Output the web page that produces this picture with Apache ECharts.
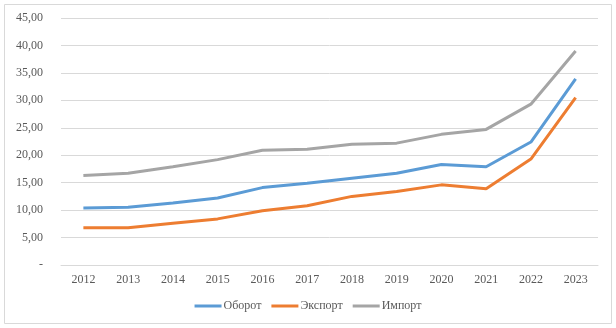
<!DOCTYPE html>
<html>
<head>
<meta charset="utf-8">
<script src="https://cdn.jsdelivr.net/npm/echarts@6/dist/echarts.min.js"></script>
<style>
  html, body { margin: 0; padding: 0; background: #fff; }
  #chart { width: 616px; height: 328px; }
</style>
</head>
<body>
<div id="chart"></div>
<script>
var years = ['2012', '2013', '2014', '2015', '2016', '2017', '2018', '2019', '2020', '2021', '2022', '2023'];
var oborot = [10.4, 10.5, 11.3, 12.2, 14.1, 14.9, 15.8, 16.7, 18.3, 17.9, 22.4, 33.9];
var eksport = [6.8, 6.8, 7.6, 8.4, 9.9, 10.8, 12.5, 13.4, 14.6, 13.9, 19.3, 30.5];
var import_ = [16.3, 16.7, 17.9, 19.2, 20.9, 21.1, 22.0, 22.2, 23.8, 24.7, 29.3, 39.0];

var chart = echarts.init(document.getElementById('chart'));
var font = '"Liberation Serif", "Times New Roman", serif';
chart.setOption({
    animation: false,
    color: ['#5B9BD5', '#ED7D31', '#A5A5A5'],
    graphic: [{
        type: 'rect',
        shape: { x: 4.5, y: 4.5, width: 607, height: 319 },
        style: { fill: 'none', stroke: '#d9d9d9', lineWidth: 1 }
    }],
    grid: { left: 61, right: 18, top: 18, bottom: 63 },
    legend: {
        bottom: 11,
        left: 'center',
        itemWidth: 27,
        itemHeight: 3,
        itemGap: 10,
        icon: 'rect',
        textStyle: { fontFamily: font, fontSize: 12, color: '#595959', padding: [0, 0, 0, -3] },
        data: ['Оборот', 'Экспорт', 'Импорт']
    },
    xAxis: {
        type: 'category',
        data: years,
        boundaryGap: true,
        axisLine: { show: true, lineStyle: { color: '#d9d9d9' } },
        axisTick: { show: false },
        axisLabel: { fontFamily: font, fontSize: 12, color: '#595959', margin: 9 }
    },
    yAxis: {
        type: 'value',
        min: 0,
        max: 45,
        interval: 5,
        axisLine: { show: false },
        axisTick: { show: false },
        splitLine: { lineStyle: { color: '#d9d9d9' } },
        axisLabel: {
            fontFamily: font, fontSize: 12, color: '#595959', margin: 18,
            formatter: function (v) { return v === 0 ? '-' : v.toFixed(2).replace('.', ','); }
        }
    },
    series: [
        { name: 'Оборот', type: 'line', data: oborot, symbol: 'none', lineStyle: { width: 3 } },
        { name: 'Экспорт', type: 'line', data: eksport, symbol: 'none', lineStyle: { width: 3 } },
        { name: 'Импорт', type: 'line', data: import_, symbol: 'none', lineStyle: { width: 3 } }
    ]
});
</script>
</body>
</html>
